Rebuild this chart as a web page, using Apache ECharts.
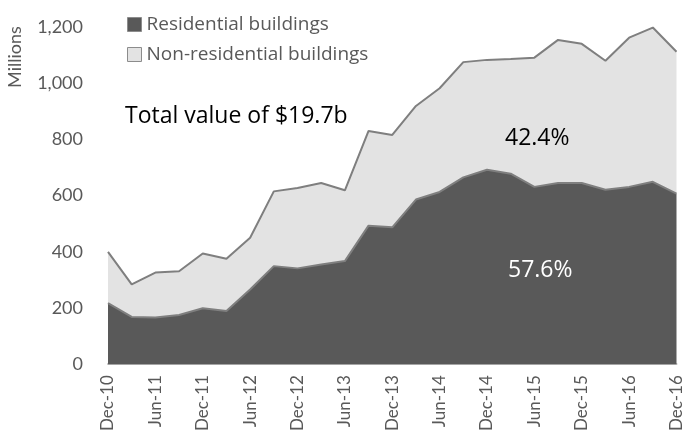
<!DOCTYPE html>
<html>
<head>
<meta charset="utf-8">
<script src="https://cdn.jsdelivr.net/npm/echarts@6/dist/echarts.min.js"></script>
<style>
  html, body { margin: 0; padding: 0; background: #fff; }
  #chart { width: 685px; height: 434px; }
</style>
</head>
<body>
<div id="chart"></div>
<script>
// quarterly, Dec-10 .. Dec-16
var quarters = [
    "Dec-10", "Mar-11", "Jun-11", "Sep-11", "Dec-11", "Mar-12", "Jun-12", "Sep-12", "Dec-12",
    "Mar-13", "Jun-13", "Sep-13", "Dec-13", "Mar-14", "Jun-14", "Sep-14", "Dec-14",
    "Mar-15", "Jun-15", "Sep-15", "Dec-15", "Mar-16", "Jun-16", "Sep-16", "Dec-16"
];
var residential = [
    217, 168, 166, 175, 199, 189, 266, 349, 341,
    355, 367, 493, 487, 586, 613, 665, 692,
    678, 631, 645, 645, 621, 631, 649, 607
];
var nonResidential = [
    183, 116, 160, 156, 195, 186, 184, 266, 286,
    290, 252, 337, 329, 333, 369, 410, 391,
    408, 460, 509, 495, 459, 531, 549, 505
];
var yTicks = [0, 200, 400, 600, 800, 1000, 1200];

var font = "Lato, 'Open Sans', sans-serif";
var wide = "'Open Sans', Lato, sans-serif";
var grey = "#595959";

var myChart = echarts.init(document.getElementById("chart"));
var opt = {
    animation: false,
    textStyle: { fontFamily: font },
    grid: { left: 108, right: 5, top: 27, bottom: 69 },
    legend: {
        orient: "vertical",
        left: 122,
        top: 10,
        itemWidth: 14,
        itemHeight: 14,
        itemGap: 11,
        icon: "rect",
        textStyle: { fontFamily: wide, fontSize: 19, color: grey },
        data: [
            { name: "Residential buildings", itemStyle: { color: "#595959", borderColor: "#8c8c8c", borderWidth: 1 } },
            { name: "Non-residential buildings", itemStyle: { color: "#e3e3e3", borderColor: "#8c8c8c", borderWidth: 1 } }
        ]
    },
    xAxis: {
        type: "category",
        data: quarters,
        boundaryGap: false,
        axisLine: { lineStyle: { color: "#bfbfbf", width: 2 } },
        axisTick: { show: false },
        axisLabel: {
            interval: 1,
            rotate: 90,
            color: grey,
            fontSize: 17,
            margin: 11
        }
    },
    yAxis: {
        type: "value",
        min: yTicks[0],
        max: yTicks[yTicks.length - 1],
        interval: 200,
        splitLine: { show: false },
        axisLine: { show: false },
        axisTick: { show: false },
        axisLabel: {
            color: grey,
            fontSize: 18,
            margin: 25,
            formatter: function (v) { return v.toLocaleString("en-US"); }
        }
    },
    series: [
        {
            name: "Residential buildings",
            type: "line",
            stack: "total",
            data: residential,
            symbol: "none",
            lineStyle: { color: "#7f7f7f", width: 2 },
            areaStyle: { color: "#595959", opacity: 1 },
            itemStyle: { color: "#595959" },
            z: 3
        },
        {
            name: "Non-residential buildings",
            type: "line",
            stack: "total",
            data: nonResidential,
            symbol: "none",
            lineStyle: { color: "#7f7f7f", width: 2 },
            areaStyle: { color: "#e3e3e3", opacity: 1 },
            itemStyle: { color: "#e3e3e3" },
            z: 2
        }
    ],
    graphic: [
        {
            type: "text",
            z: 100,
            x: 15,
            y: 57,
            rotation: Math.PI / 2,
            style: { text: "Millions", fill: grey, font: "18px " + font, textAlign: "center", textVerticalAlign: "middle" }
        },
        {
            type: "text",
            z: 100,
            left: 125,
            top: 105,
            style: { text: "Total value of $19.7b", fill: "#000", font: "23px " + wide }
        },
        {
            type: "text",
            z: 100,
            left: 505,
            top: 127,
            style: { text: "42.4%", fill: "#000", font: "23px " + wide }
        },
        {
            type: "text",
            z: 100,
            left: 508,
            top: 259,
            style: { text: "57.6%", fill: "#fff", font: "23px " + wide }
        }
    ]
};
myChart.setOption(opt);
</script>
</body>
</html>
